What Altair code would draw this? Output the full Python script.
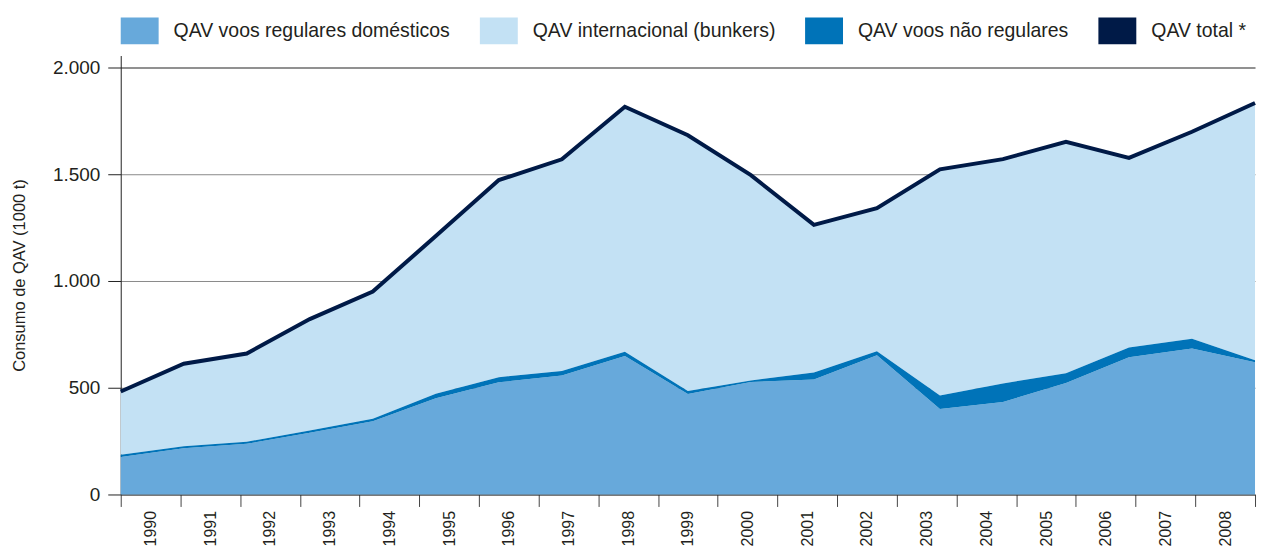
import altair as alt
import pandas as pd

# ---- data (1000 t) ----
anos = [1990, 1991, 1992, 1993, 1994, 1995, 1996, 1997, 1998, 1999,
        2000, 2001, 2002, 2003, 2004, 2005, 2006, 2007, 2008]
domesticos = [176, 216, 237, 289, 343, 450, 525, 557, 648, 470,
              527, 538, 652, 400, 433, 522, 643, 683, 619]
nao_regulares = [10, 10, 10, 11, 11, 22, 24, 21, 20, 15,
                 7, 33, 18, 63, 87, 46, 45, 46, 9]
total = [482, 612, 660, 821, 950, 1210, 1472, 1569, 1815, 1682,
         1495, 1262, 1340, 1522, 1570, 1651, 1576, 1698, 1833]

series = ["QAV voos regulares domésticos", "QAV internacional (bunkers)",
          "QAV voos não regulares", "QAV total *"]
cores = ["#67a9db", "#c3e1f4", "#0073b8", "#001a47"]
ordem_pilha = [0, 2, 1, 3]
y_ticks = [0, 500, 1000, 1500, 2000]

FONT = "Liberation Sans"
TXT = "#231f20"

# ---- tables ----
rows = []
for i, a in enumerate(anos):
    intl = total[i] - domesticos[i] - nao_regulares[i]
    vals = [domesticos[i], intl, nao_regulares[i], 0]
    for s, v, o in zip(series, vals, ordem_pilha):
        rows.append({"ano": a, "serie": s, "valor": v, "ordem": o})
df_long = pd.DataFrame(rows)
df_total = pd.DataFrame({"ano": anos, "total": total})
df_anos = pd.DataFrame({"ano_txt": [str(a) for a in anos]})

x_data = alt.X("ano:Q", scale=alt.Scale(domain=[anos[0], anos[-1]], nice=False, zero=False), axis=None)
y_scale = alt.Scale(domain=[0, 2055], nice=False)

area = alt.Chart(df_long).mark_area(interpolate="linear").encode(
    x=x_data,
    y=alt.Y("valor:Q", stack="zero", scale=y_scale,
            axis=alt.Axis(values=y_ticks, title="Consumo de QAV (1000 t)",
                          labelExpr="replace(format(datum.value, ','), ',', '.')",
                          grid=True,
                          gridColor={"condition": {"test": "datum.value == 2000", "value": "#222222"},
                                     "value": "#8a8a8a"},
                          gridWidth=1, tickSize=13, tickColor="#222222",
                          domainColor="#222222", domainWidth=1,
                          labelFontSize=19, labelPadding=8, labelColor=TXT, labelFont=FONT,
                          titleFontSize=16.5, titleFontWeight="normal", titleColor=TXT,
                          titleFont=FONT, titlePadding=25)),
    color=alt.Color("serie:N", title=None,
                    scale=alt.Scale(domain=series, range=cores),
                    legend=alt.Legend(orient="none", legendX=0, legendY=-44,
                                      direction="horizontal",
                                      symbolType="M-1,-0.71H1V0.71H-1Z",
                                      symbolSize=1444, symbolStrokeWidth=0,
                                      labelFontSize=19.5, labelFont=FONT, labelColor=TXT,
                                      labelOffset=15, columnPadding=29, padding=0,
                                      labelLimit=400)),
    order=alt.Order("ordem:Q"),
)

linha = alt.Chart(df_total).mark_line(color="#001a47", strokeWidth=4,
                                      strokeJoin="miter", strokeCap="butt").encode(
    x=x_data,
    y=alt.Y("total:Q", scale=y_scale),
)

eixo = alt.Chart(df_anos).mark_rule(opacity=0).encode(
    x=alt.X("ano_txt:O", sort=None,
            scale=alt.Scale(type="band", paddingInner=0, paddingOuter=0),
            axis=alt.Axis(title=None, orient="bottom", tickBand="extent",
                          labelAngle=270, labelAlign="right", labelBaseline="middle",
                          tickSize=12, tickColor="#444444", domainColor="#222222",
                          labelFontSize=16, labelFont=FONT, labelColor=TXT,
                          labelPadding=4)),
)

chart = alt.layer(area, linha, eixo).resolve_scale(x="independent").properties(
    width=1137, height=440,
    autosize=alt.AutoSizeParams(type="none"),
    padding={"left": 113, "top": 47, "right": 8, "bottom": 53},
).configure_view(stroke="transparent")

chart.save("out.html", embed_options={"renderer": "svg", "actions": False})
